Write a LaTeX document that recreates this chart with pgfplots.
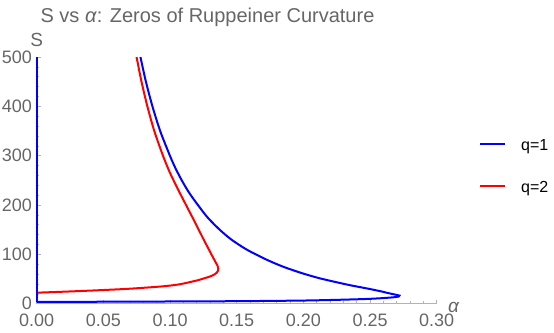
\documentclass[border=0pt]{standalone}
\usepackage{fontspec}
\setmainfont{Liberation Sans}
\usepackage{pgfplots}
\pgfplotsset{compat=1.18}
\definecolor{axgray}{RGB}{179,179,179}
\definecolor{txgray}{RGB}{102,102,102}
\begin{document}
\begin{tikzpicture}
\useasboundingbox (0,0) rectangle (554bp,333bp);
\begin{axis}[
  at={(36.7bp,29.3bp)}, anchor=south west,
  scale only axis, width=400bp, height=246.7bp,
  xmin=0, xmax=0.3, ymin=0, ymax=500,
  clip=false,
  axis lines*=left,
  axis line style={draw=axgray, line width=0.8bp},
  xtick={0,0.05,0.1,0.15,0.2,0.25,0.3},
  ytick={0,100,200,300,400,500},
  minor x tick num=4, minor y tick num=4,
  tick align=inside,
  major tick length=4bp, minor tick length=2.5bp,
  tick style={draw=axgray, line width=0.6bp},
  scaled x ticks=false, scaled y ticks=false,
  tick label style={font=\fontsize{18bp}{20bp}\selectfont, text=txgray},
  xticklabel style={inner sep=0pt, anchor=north, yshift=-10.3bp, /pgf/number format/.cd, fixed, fixed zerofill, precision=2, assume math mode=true},
  yticklabel style={inner sep=0pt, anchor=east, xshift=-4.7bp, /pgf/number format/.cd, fixed, assume math mode=true},
  every axis x label/.style={at={(axis description cs:1,0)}, anchor=west, inner sep=0pt, xshift=11.3bp, yshift=-3.3bp, font=\fontsize{19bp}{21bp}\selectfont, text=txgray},
  every axis y label/.style={at={(axis description cs:0,1)}, anchor=south, inner sep=0pt, yshift=10bp, font=\fontsize{19bp}{21bp}\selectfont, text=txgray},
  xlabel={\textit{α}}, ylabel={S},
  legend style={at={(axis description cs:1.1058,0.55)}, anchor=west, draw=none, fill=none, inner sep=0pt,
    nodes={inner sep=0pt, text height=11bp, text depth=4bp, font=\fontsize{16bp}{18bp}\selectfont},
    row sep=27bp, /tikz/every odd column/.append style={column sep=15bp}},
  legend cell align=left,
  legend image code/.code={\draw[#1] (0bp,3.5bp) -- (25bp,3.5bp);},
]
\addplot[blue, line width=2bp, smooth, tension=0.45] coordinates {
(0.0778,500) (0.0819,450) (0.0868,400) (0.0926,350) (0.0999,300) (0.1040,275)
(0.1088,250) (0.1143,225) (0.1209,200) (0.1281,175) (0.1372,150) (0.1460,130)
(0.1573,110) (0.1718,90) (0.1848,75) (0.1988,62) (0.2115,52) (0.2231,44.6)
(0.2350,37.5) (0.2475,31) (0.2575,25.5) (0.2640,21.3) (0.2690,18.4) (0.2720,16.4)
(0.2715,14.6) (0.2680,13.1) (0.2600,11.4) (0.2475,9.6) (0.2250,7.8) (0.1975,6.3)
(0.15,5.1) (0.10,4.5) (0.05,4.0) (0,3.5)
};
\addlegendentry{q=1}
\addplot[red, line width=2bp, smooth, tension=0.45] coordinates {
(0.0749,500) (0.0786,450) (0.0830,400) (0.0882,350) (0.0947,300) (0.1000,265)
(0.1063,230) (0.1120,200) (0.1168,175) (0.1215,150) (0.1256,128) (0.1291,110)
(0.1320,95) (0.1342,84) (0.1356,77) (0.1362,71.5) (0.1360,67) (0.1350,62.7)
(0.1333,59.2) (0.1310,56.2) (0.1280,53.4) (0.1245,50.5) (0.1200,47) (0.1075,39.5)
(0.0950,35.3) (0.0700,30.4) (0.0450,27.1) (0.0200,24.3) (0,22.3)
};
\addlegendentry{q=2}
\addplot[blue, line width=2bp, forget plot] coordinates {(0,3.5) (0,500)};
\end{axis}
\node[anchor=base, inner sep=0pt, font=\fontsize{20bp}{22bp}\selectfont, text=txgray] at (207.5bp,310bp) {S vs \textit{α}: Zeros of Ruppeiner Curvature};
\end{tikzpicture}
\end{document}
